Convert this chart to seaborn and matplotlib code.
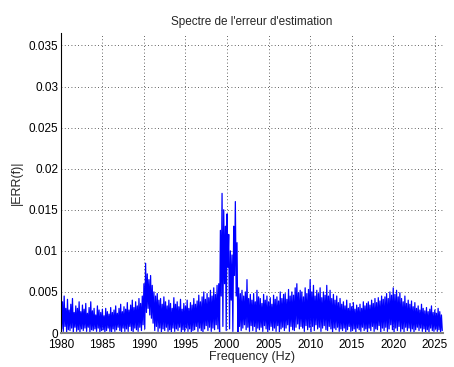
import numpy as np
import pandas as pd
import matplotlib
matplotlib.use('Agg')
import matplotlib.pyplot as plt
import seaborn as sns

sns.set_style('white')
plt.rcParams['font.family'] = ['Liberation Sans', 'DejaVu Sans']

# |ERR(f)|, en unités de 1e-4
# sommets (tous les 0.2 Hz à partir de 1980.0)
pics = [
    52, 38, 45, 30, 41,  28, 35, 42, 25, 33,  30, 38, 26, 34, 29,  36, 24, 31, 38, 27,
    30, 22, 33, 28, 25,  29, 21, 30, 26, 23,  31, 25, 28, 33, 24,  30, 35, 26, 32, 29,
    37, 28, 34, 40, 31,  38, 33, 42, 36, 45,  60, 85, 72, 65, 70,  58, 50, 45, 48, 40,
    42, 35, 44, 38, 33,  40, 36, 30, 43, 35,  38, 32, 41, 29, 36,  33, 40, 30, 37, 34,
    42, 35, 39, 46, 38,  44, 50, 41, 48, 43,  52, 45, 55, 47, 58,  60, 125, 170, 150, 130,
    145, 120, 100, 95, 130,  160, 110, 55, 48, 52,  45, 50, 65, 42, 47,  40, 48, 38, 52, 44,
    42, 36, 47, 40, 45,  38, 43, 35, 46, 41,  44, 39, 50, 42, 47,  48, 41, 53, 45, 50,
    46, 55, 60, 49, 52,  50, 44, 55, 48, 53,  65, 50, 58, 45, 52,  48, 55, 43, 50, 46,
    58, 45, 52, 42, 47,  40, 45, 37, 42, 35,  38, 33, 40, 30, 36,  32, 37, 29, 34, 31,
    35, 30, 38, 33, 36,  38, 34, 40, 36, 42,  37, 43, 39, 45, 41,  44, 48, 42, 50, 46,
    55, 47, 52, 44, 49,  42, 38, 45, 36, 40,  35, 39, 32, 37, 30,  33, 28, 35, 30, 27,
    31, 26, 29, 33, 25,  28, 24, 30, 26, 22,
]
# creux (décalés de 0.1 Hz)
creux = [
    5, 2, 8, 1, 4,  3, 6, 1, 7, 2,  4, 1, 5, 3, 6,  2, 7, 1, 4, 3,
    5, 2, 6, 1, 3,  4, 1, 3, 6, 2,  1, 5, 2, 4, 7,  3, 1, 6, 2, 5,
    2, 8, 3, 1, 6,  4, 2, 7, 3, 10,  5, 25, 30, 22, 18,  12, 3, 8, 2, 6,
    1, 5, 3, 7, 2,  4, 1, 6, 2, 5,  3, 7, 1, 4, 2,  6, 2, 5, 1, 3,
    4, 8, 2, 6, 3,  1, 5, 9, 3, 7,  2, 6, 4, 10, 5,  0, 45, 8, 60, 3,
    80, 5, 40, 2, 70,  45, 0, 8, 3, 6,  10, 4, 7, 2, 9,  3, 8, 1, 6, 4,
    7, 2, 9, 5, 1,  4, 8, 3, 6, 2,  9, 1, 5, 7, 3,  6, 10, 2, 8, 4,
    3, 7, 11, 5, 8,  6, 2, 9, 4, 7,  0, 8, 3, 10, 5,  7, 2, 6, 9, 4,
    3, 8, 5, 1, 6,  4, 7, 2, 5, 3,  6, 1, 4, 8, 2,  3, 5, 1, 6, 4,
    2, 7, 3, 5, 1,  6, 3, 8, 2, 5,  4, 9, 1, 6, 3,  7, 2, 5, 10, 4,
    0, 6, 3, 8, 2,  5, 1, 7, 3, 6,  2, 5, 1, 4, 7,  3, 6, 2, 5, 1,
    4, 1, 6, 3, 2,  5, 2, 4, 1, 3,
]
f0, df = 1980.0, 0.2

n = len(pics)
f_pics = f0 + df * np.arange(n)
f_creux = f_pics + df / 2
freq = np.empty(2 * n)
err = np.empty(2 * n)
freq[0::2], freq[1::2] = f_pics, f_creux
err[0::2] = np.array(pics) * 1e-4
err[1::2] = np.array(creux) * 1e-4
df_err = pd.DataFrame({'f': freq, 'err': err})

fig = plt.figure(figsize=(4.54, 3.67), dpi=100)
ax = fig.add_axes([0.134, 0.0926, 0.842, 0.817])
sns.lineplot(data=df_err, x='f', y='err', sort=False, estimator=None,
             color='#0000ff', lw=0.9, ax=ax)

ax.set_xlim(1980, 2026)
ax.set_ylim(0, 0.0365)
ax.set_xticks(np.arange(1980, 2026, 5))
ax.set_yticks(np.arange(0, 0.0351, 0.005))
ax.set_yticklabels(['0', '0.005', '0.01', '0.015', '0.02', '0.025', '0.03', '0.035'])
ax.grid(True, color='#303030', linestyle=(0, (1, 3)), lw=0.6)
for s in ['top', 'right']:
    ax.spines[s].set_visible(False)
ax.spines['left'].set_color('black')
ax.spines['bottom'].set_color('#808080')
ax.spines['left'].set_linewidth(0.8)
ax.spines['bottom'].set_linewidth(1.5)
ax.tick_params(direction='in', length=3, labelsize=8.5, colors='black', pad=2)
ax.tick_params(axis='x', pad=4.5)
ax.set_xlabel('Frequency (Hz)', fontsize=9, labelpad=0)
ax.set_ylabel('|ERR(f)|', fontsize=9, labelpad=4)
ax.set_title("Spectre de l'erreur d'estimation", fontsize=8.5, pad=6)

fig.savefig('out.png', dpi=100)
